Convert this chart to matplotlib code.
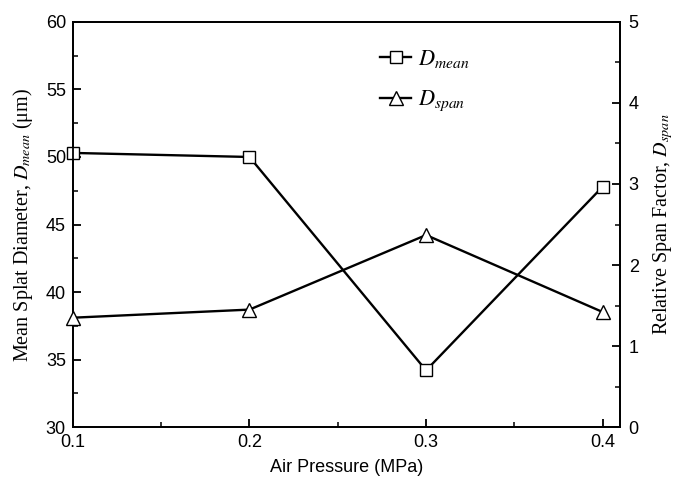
"""Mean splat diameter and relative span factor vs air pressure."""

import matplotlib
matplotlib.use("Agg")
import matplotlib.pyplot as plt
from matplotlib.ticker import MultipleLocator

plt.rcParams['mathtext.fontset'] = 'stix'
plt.rcParams['xtick.direction'] = 'in'
plt.rcParams['ytick.direction'] = 'in'

# values
air_pressure = [0.1, 0.2, 0.3, 0.4]
d_mean = [50.3, 50.0, 34.2, 47.8]      # left axis, um
d_span = [1.35, 1.45, 2.37, 1.42]      # right axis

sans = 'Liberation Sans'
serif = 'Liberation Serif'

fig = plt.figure(figsize=(6.75, 4.87), dpi=100)
ax = fig.add_axes([0.108, 0.123, 0.811, 0.832])
ax2 = ax.twinx()

l1, = ax.plot(air_pressure, d_mean, color='black', lw=1.7, marker='s', ms=8,
              mfc='white', mec='black', mew=1.0, clip_on=False, zorder=3)
l2, = ax2.plot(air_pressure, d_span, color='black', lw=1.7, marker='^', ms=10,
               mfc='white', mec='black', mew=1.0, clip_on=False, zorder=3)

ax.set_xlim(0.1, 0.41)
ax.set_ylim(30, 60)
ax2.set_ylim(0, 5)

ax.xaxis.set_major_locator(MultipleLocator(0.1))
ax.xaxis.set_minor_locator(MultipleLocator(0.05))
ax.yaxis.set_major_locator(MultipleLocator(5))
ax.yaxis.set_minor_locator(MultipleLocator(2.5))
ax2.yaxis.set_major_locator(MultipleLocator(1))
ax2.yaxis.set_minor_locator(MultipleLocator(0.5))

for a in (ax, ax2):
    a.tick_params(which='major', length=6, width=1.3, labelsize=13)
    a.tick_params(which='minor', length=3.5, width=1.1)
    for lab in a.get_xticklabels() + a.get_yticklabels():
        lab.set_fontfamily(sans)
    for s in a.spines.values():
        s.set_linewidth(1.3)
ax.tick_params(axis='x', pad=5)
ax.tick_params(axis='y', pad=5)
ax2.tick_params(axis='y', pad=6)

ax.set_xlabel('Air Pressure (MPa)', fontsize=13, fontfamily=sans, labelpad=6)
ax.set_ylabel(r'Mean Splat Diameter, $D_{mean}$ (μm)', fontsize=14.5,
              fontfamily=serif, labelpad=8)
ax2.set_ylabel(r'Relative Span Factor, $D_{span}$', fontsize=14.5,
               fontfamily=serif, labelpad=9)

leg = ax.legend([l1, l2], [r'$D_{mean}$', r'$D_{span}$'],
                loc='upper left', bbox_to_anchor=(0.525, 0.985),
                frameon=False, fontsize=16, handlelength=1.4,
                labelspacing=0.85, handletextpad=0.3)

fig.savefig('out.png', dpi=100)
